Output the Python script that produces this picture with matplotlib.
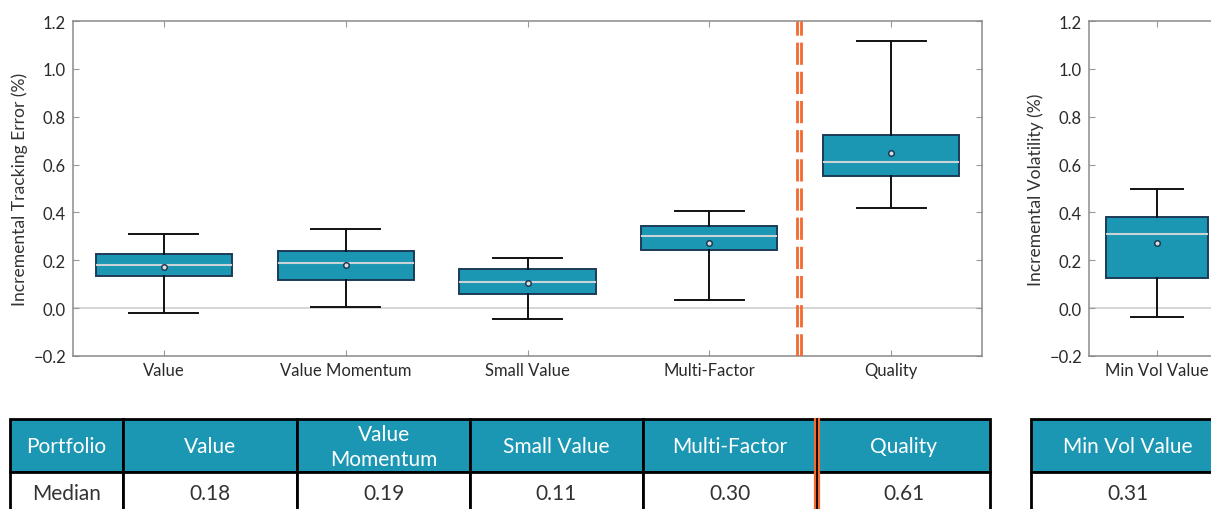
import matplotlib
matplotlib.use("Agg")
import matplotlib.pyplot as plt
from matplotlib.patches import Rectangle

plt.rcParams['font.family'] = ['Lato', 'DejaVu Sans']

# box statistics, tracking error portfolios
portfolios = ["Value", "Value Momentum", "Small Value", "Multi-Factor", "Quality"]
whisker_low = [-0.021, 0.004, -0.046, 0.035, 0.419]
q1 = [0.135, 0.118, 0.061, 0.243, 0.554]
median = [0.18, 0.19, 0.11, 0.30, 0.61]
q3 = [0.226, 0.238, 0.163, 0.342, 0.725]
whisker_high = [0.31, 0.33, 0.211, 0.407, 1.118]
mean = [0.172, 0.182, 0.107, 0.271, 0.647]

# box statistics, volatility portfolios
vol_portfolios = ["Min Vol Value"]
vol_whisker_low = [-0.035]
vol_q1 = [0.125]
vol_median = [0.31]
vol_q3 = [0.379]
vol_whisker_high = [0.50]
vol_mean = [0.271]

yticks = [-0.2, 0.0, 0.2, 0.4, 0.6, 0.8, 1.0, 1.2]

TEAL = "#1b97b3"
EDGE = "#1d3b58"
ORANGE = "#f26a2e"
W, H = 1211, 510


def make_stats(names, lo, a, med, b, hi, mu):
    return [dict(label=n, whislo=lo[i], q1=a[i], med=med[i], q3=b[i],
                 whishi=hi[i], mean=mu[i], fliers=[])
            for i, n in enumerate(names)]


def draw_boxes(ax, stats, ylabel):
    ax.axhline(0, color="#d0d0d0", lw=1.2, zorder=0)
    ax.bxp(stats, positions=range(len(stats)), widths=0.75, capwidths=0.38,
           patch_artist=True, showmeans=True, showfliers=False,
           boxprops=dict(facecolor=TEAL, edgecolor=EDGE, linewidth=1.4),
           medianprops=dict(color="#c9d3d8", linewidth=1.5),
           whiskerprops=dict(color="#111111", linewidth=1.4),
           capprops=dict(color="#111111", linewidth=1.4),
           meanprops=dict(marker="o", markersize=4, markerfacecolor="#d8dde0",
                          markeredgecolor=EDGE, markeredgewidth=1.1))
    ax.set_ylim(-0.2, 1.2)
    ax.set_yticks(yticks)
    ax.set_yticklabels([f"{t:.1f}".replace("-", "\u2212") for t in yticks])
    ax.set_ylabel(ylabel, fontsize=12.6, color="#333333", labelpad=4)
    ax.tick_params(direction="in", length=4, color="#999999", labelcolor="#2a2a2a",
                   labelsize=12, top=True, right=True, pad=5)
    ax.tick_params(axis="x", labelsize=12, pad=4)
    for s in ax.spines.values():
        s.set_color("#8a8a8a")
        s.set_linewidth(1.1)


fig = plt.figure(figsize=(W / 100, H / 100), dpi=100)

ax1 = fig.add_axes([73 / W, (H - 357) / H, 909 / W, 335 / H])
draw_boxes(ax1, make_stats(portfolios, whisker_low, q1, median, q3, whisker_high, mean),
           "Incremental Tracking Error (%)")
ax1.set_xlim(-0.5, len(portfolios) - 0.5)
for dx in (-0.018, 0.004):
    ax1.axvline(3.5 + dx, color=ORANGE, lw=2, dashes=(8, 2.5), zorder=3)

# second panel runs past the right edge
ax2 = fig.add_axes([1089 / W, (H - 357) / H, 544 / W, 335 / H])
draw_boxes(ax2, make_stats(vol_portfolios, vol_whisker_low, vol_q1, vol_median, vol_q3,
                           vol_whisker_high, vol_mean),
           "Incremental Volatility (%)")
ax2.set_xlim(-0.5, 3.5)
ax2.set_xticks([0])
ax2.set_xticklabels(vol_portfolios)

# summary table underneath, drawn in pixel coordinates
tab = fig.add_axes([0, 0, 1, 1])
tab.set_xlim(0, W)
tab.set_ylim(H, 0)
tab.axis("off")

header_labels = ["Portfolio", "Value", "Value\nMomentum", "Small Value", "Multi-Factor", "Quality"]
row_labels = ["Median"] + [f"{m:.2f}" for m in median]
col_edges = [10, 123, 297, 470, 643, 817, 990]
top, mid, bot = 420, 473, 513


def draw_table(edges, heads, cells):
    for i in range(len(edges) - 1):
        x0, x1 = edges[i], edges[i + 1]
        tab.add_patch(Rectangle((x0, top), x1 - x0, mid - top, facecolor=TEAL,
                                edgecolor="black", lw=2, zorder=1))
        tab.add_patch(Rectangle((x0, mid), x1 - x0, bot - mid, facecolor="white",
                                edgecolor="black", lw=2, zorder=1))
        tab.text((x0 + x1) / 2, (top + mid) / 2 + 1, heads[i], color="white",
                 fontsize=15, ha="center", va="center", linespacing=1.3)
        tab.text((x0 + x1) / 2, mid + 21, cells[i], color="#333333",
                 fontsize=15, ha="center", va="center")


draw_table(col_edges, header_labels, row_labels)
for dx in (-1.8, 1.8):
    tab.plot([817 + dx, 817 + dx], [top, bot], color=ORANGE, lw=1.6, zorder=3)

draw_table([1031, 1225], vol_portfolios, [f"{m:.2f}" for m in vol_median])

fig.savefig("out.png", dpi=100)
